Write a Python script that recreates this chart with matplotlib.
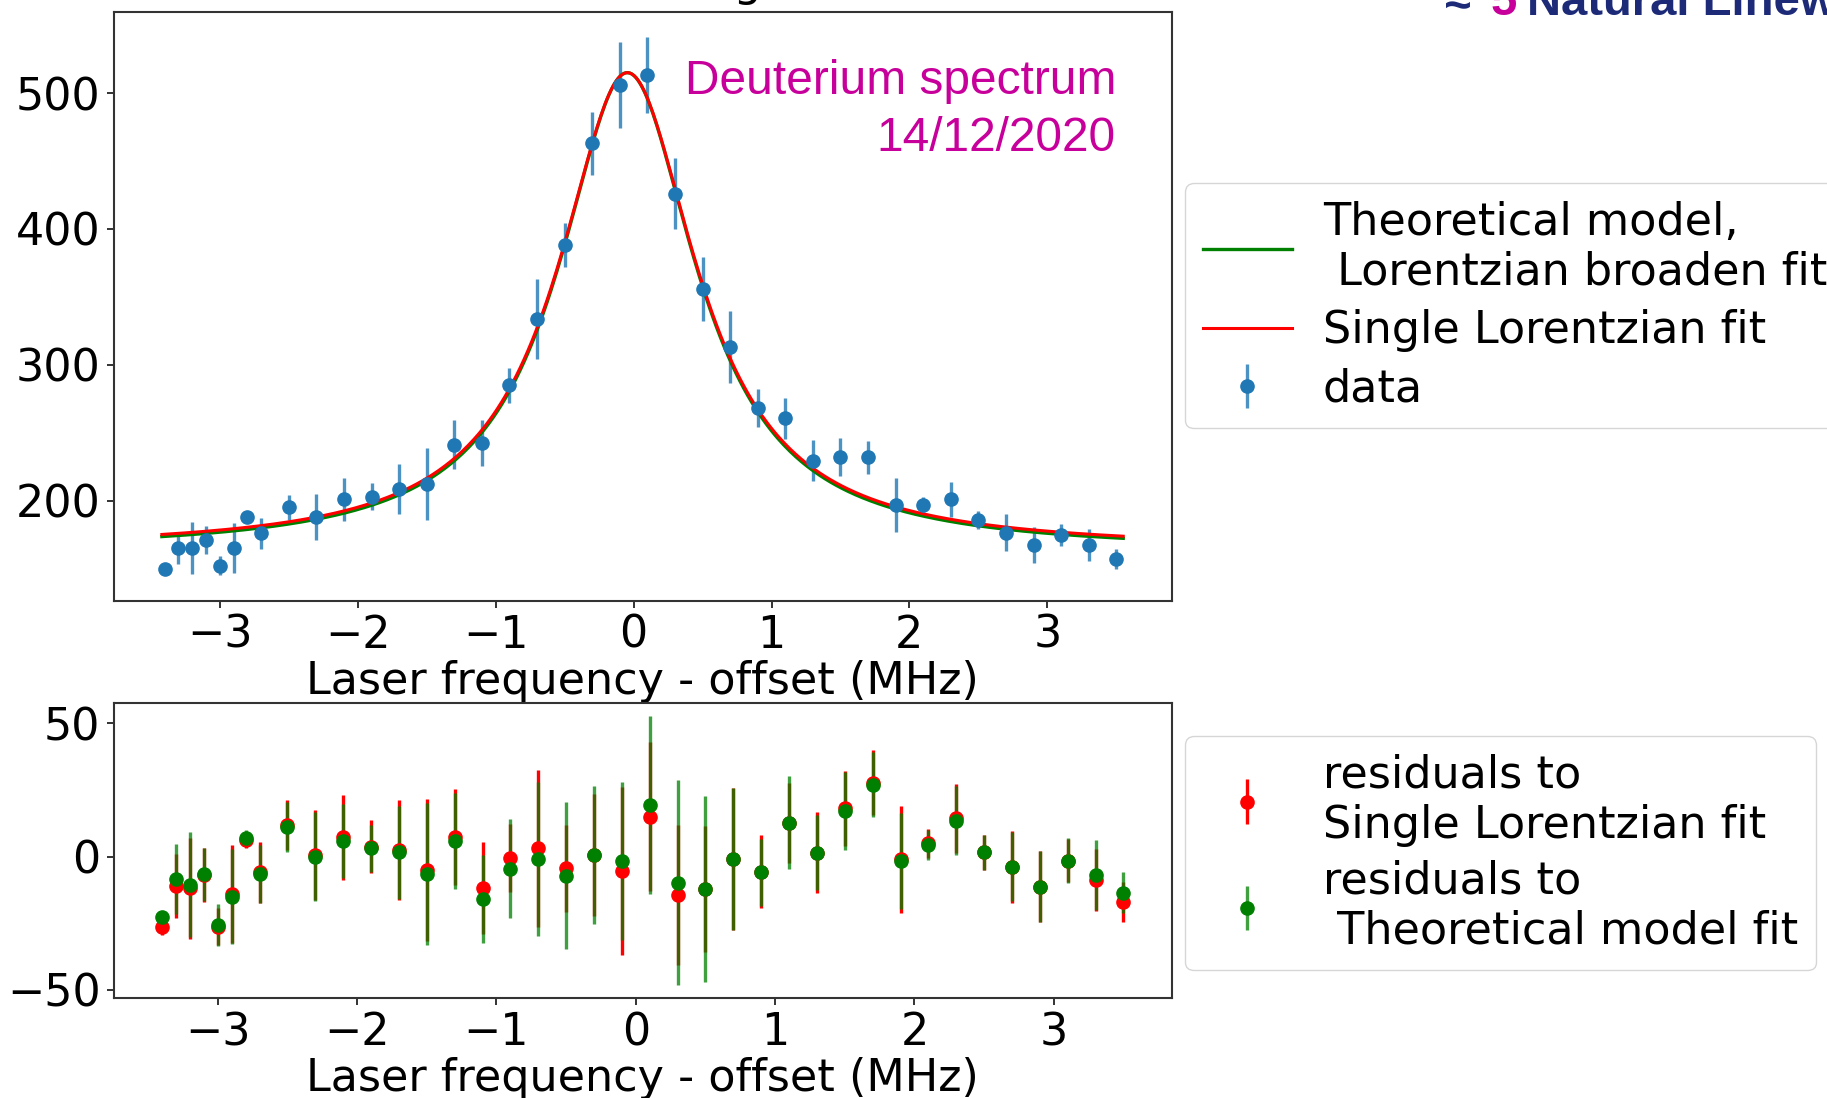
import numpy as np
import matplotlib.pyplot as plt

# ---------------------------------------------------------------
# Measured spectrum (laser detuning in MHz, counts, 1-sigma error)
# ---------------------------------------------------------------
freq = [-3.4, -3.3, -3.2, -3.1, -3.0, -2.9, -2.8, -2.7,
        -2.5, -2.3, -2.1, -1.9, -1.7, -1.5, -1.3, -1.1, -0.9, -0.7,
        -0.5, -0.3, -0.1, 0.1, 0.3, 0.5, 0.7, 0.9, 1.1, 1.3, 1.5,
        1.7, 1.9, 2.1, 2.3, 2.5, 2.7, 2.9, 3.1, 3.3, 3.5]
counts = [150, 165, 165, 171, 152, 165, 188, 176,
          195, 188, 201, 203, 208.5, 212, 241, 242.5, 285, 334,
          388, 463, 506, 513, 426, 356, 313, 268, 260.5, 229.5, 232,
          232, 197, 197, 201, 185.5, 176.5, 167.5, 174.7, 167.5, 157]
counts_err = [3, 12, 19, 10, 7, 18.5, 3, 11.5,
              9.5, 17, 16, 10, 18.7, 26.6, 18, 17.2, 12.8, 29.4,
              16.4, 23, 31.5, 28, 26.4, 23.6, 26.5, 13.8, 15, 15.2, 14,
              12.2, 20, 5.5, 13, 6.6, 13.5, 13.4, 8, 11.6, 7.5]

# residuals of the two fits
res_single = [-26.6, -10.9, -11.9, -6.9, -26.25, -14.1, 6.25, -5.9,
              11.9, 0.6, 7.25, 3.75, 2.5, -5, 7.5, -11.9, -0.6, 3.1,
              -4.4, 0.6, -5.4, 15, -14.4, -12.1, -0.9, -5.6, 12.75, 1.5, 18.1,
              27.75, -1, 5, 14.4, 1.6, -3.75, -11.25, -1.5, -8.75, -16.9]
res_model = [-22.5, -8.4, -10.6, -6.6, -25.6, -15, 6.9, -6.6,
             11.25, 0, 6, 3.1, 1.6, -6.5, 6, -16, -4.6, -0.9,
             -7.1, 0.6, -1.5, 19.4, -9.75, -12.1, -0.9, -5.9, 12.75, 1.5, 17.1,
             26.9, -1.6, 4.4, 13.5, 1.6, -3.75, -11.25, -1.5, -6.9, -13.5]
res_model_err = [2, 13.1, 19.75, 10, 7.9, 17.75, 3, 10.9,
                 9.4, 16.6, 13.9, 8.75, 17.5, 26.6, 18, 16.5, 18.6, 28.75,
                 27.6, 26, 29.7, 33.4, 38.4, 35, 26.7, 12.5, 17.5, 14, 14.5,
                 12.2, 18.1, 5.5, 13, 6.6, 13.1, 13.4, 8.4, 13.1, 7.6]

# fit parameters: centre, half width, amplitude, background
single_fit = dict(x0=-0.045, gamma=0.61, amp=351, bg=164)
model_fit = dict(x0=-0.045, gamma=0.607, amp=352.5, bg=162.5)


def lorentzian(x, x0, gamma, amp, bg):
    return bg + amp / (1 + ((x - x0) / gamma) ** 2)


fine = np.linspace(-3.42, 3.55, 500)

fs = 32
plt.rcParams['font.family'] = 'DejaVu Sans'
plt.rcParams['font.size'] = fs

fig = plt.figure(figsize=(18.27, 10.98), dpi=100)
W, H = 1827, 1098
ax1 = fig.add_axes([114 / W, 1 - 600.5 / H, 1057.5 / W, 589 / H])
ax2 = fig.add_axes([114 / W, 1 - 998 / H, 1057.5 / W, 295.3 / H])

blue = '#1f77b4'
ax1.errorbar(freq, counts, yerr=counts_err, fmt='o', color=blue,
             ecolor=(0.12, 0.47, 0.71, 0.8), elinewidth=2.4, markersize=9.5,
             label='data')
ax1.plot(fine, lorentzian(fine, **model_fit), color='green', lw=2.4,
         label='Theoretical model,\n Lorentzian broaden fit')
ax1.plot(fine, lorentzian(fine, **single_fit), color='red', lw=2.2,
         label='Single Lorentzian fit')
ax1.set_xlim(-3.767, 3.90)
ax1.set_ylim(126.5, 560)
ax1.set_xticks([-3, -2, -1, 0, 1, 2, 3])
ax1.set_yticks([200, 300, 400, 500])
ax1.set_xlabel('Laser frequency - offset (MHz)', labelpad=2)

ax2.errorbar(freq, res_single, yerr=counts_err, fmt='o', color='red',
             ecolor='red', elinewidth=2.4, markersize=9.5,
             label='residuals to\nSingle Lorentzian fit')
ax2.errorbar(freq, res_model, yerr=res_model_err, fmt='o', color='green',
             ecolor=(0, 0.5, 0, 0.75), elinewidth=2.4, markersize=9.5,
             label='residuals to\n Theoretical model fit')
ax2.set_xlim(-3.745, 3.845)
ax2.set_ylim(-53.1, 57.8)
ax2.set_xticks([-3, -2, -1, 0, 1, 2, 3])
ax2.set_yticks([-50, 0, 50])
ax2.set_xlabel('Laser frequency - offset (MHz)', labelpad=2)

for ax in (ax1, ax2):
    for sp in ax.spines.values():
        sp.set_linewidth(1.5)
        sp.set_color('#333333')
    ax.tick_params(length=4.7, width=1.4, pad=5, color='#333333')

leg1 = ax1.legend(loc='upper left', bbox_to_anchor=(1185 / W, 1 - 183 / H),
                  bbox_transform=fig.transFigure, borderaxespad=0,
                  labelspacing=0.35, handletextpad=0.7, fontsize=fs)
leg2 = ax2.legend(loc='upper left', bbox_to_anchor=(1185 / W, 1 - 736 / H),
                  bbox_transform=fig.transFigure, borderaxespad=0,
                  labelspacing=0.3, handletextpad=0.7, fontsize=fs)

# annotation in the spectrum panel
mag = '#c8009b'
fig.text(1116 / W, 1 - 94 / H, 'Deuterium spectrum', ha='right', va='baseline',
         color=mag, fontsize=34.5, family='Liberation Sans')
fig.text(1116 / W, 1 - 151 / H, '14/12/2020', ha='right', va='baseline',
         color=mag, fontsize=34.5, family='Liberation Sans')

# heading running off the top edge
fig.text(762 / W, 1 + 4 / H, 'Lorentzian fitting', ha='right', va='baseline',
         fontsize=fs, color='black')

navy = '#1c2a78'
fig.text(1445 / W, 1 - 15 / H, '\u2248', ha='left', va='baseline', color=navy,
         fontsize=34, fontweight='bold', family='Liberation Sans')
fig.text(1491 / W, 1 - 15 / H, '5', ha='left', va='baseline', color=mag,
         fontsize=34, fontweight='bold', family='Liberation Sans')
fig.text(1527 / W, 1 - 15 / H, 'Natural Linewidths', ha='left', va='baseline',
         color=navy, fontsize=34, fontweight='bold', family='Liberation Sans')

fig.savefig('out.png', dpi=100)
